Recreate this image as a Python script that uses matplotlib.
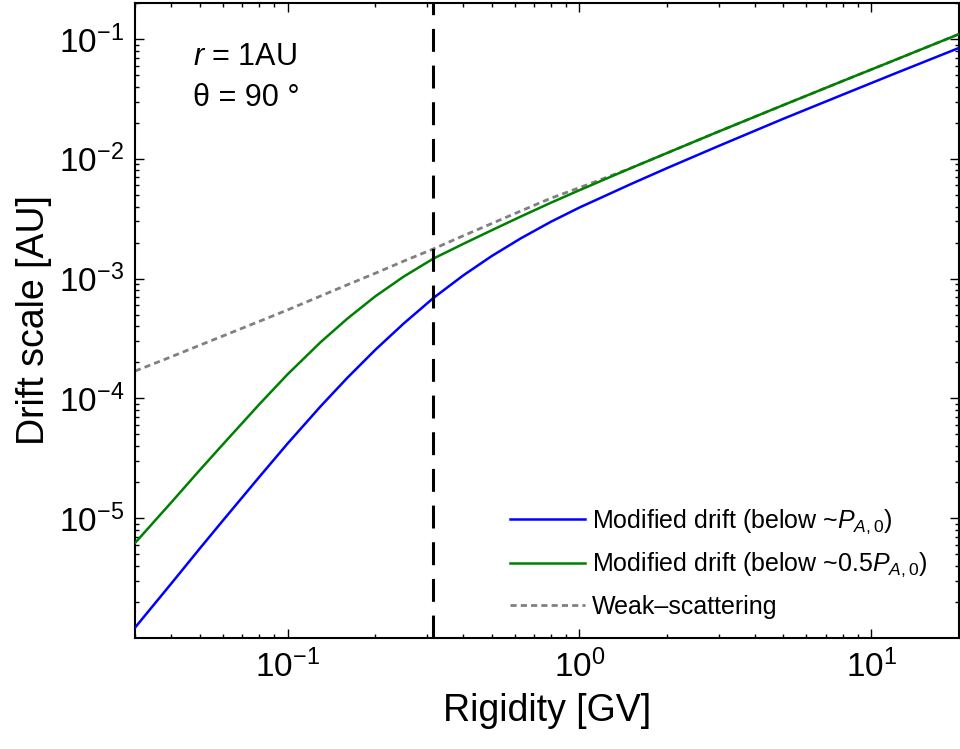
import matplotlib
matplotlib.use("Agg")
import matplotlib.pyplot as plt
import numpy as np

plt.rcParams['font.family'] = ['Liberation Sans', 'DejaVu Sans']
plt.rcParams['mathtext.fontset'] = 'custom'
plt.rcParams['mathtext.rm'] = 'Liberation Sans'
plt.rcParams['mathtext.it'] = 'Liberation Sans:italic'

# rigidity grid [GV]
rigidity = [0.03, 0.04, 0.05, 0.06, 0.08, 0.1, 0.13, 0.16, 0.2, 0.25, 0.316,
            0.4, 0.5, 0.63, 0.8, 1.0, 1.5, 2.0, 3.0, 5.0, 8.0, 12.0, 20.0]

# drift scale [AU]
drift_below_pa0 = [1.22e-6, 2.86e-6, 5.58e-6, 9.55e-6, 2.21e-5, 4.20e-5, 8.63e-5,
                   1.48e-4, 2.55e-4, 4.22e-4, 6.89e-4, 1.064e-3, 1.54e-3, 2.17e-3,
                   2.99e-3, 3.92e-3, 6.15e-3, 8.38e-3, 1.28e-2, 2.16e-2, 3.44e-2,
                   5.13e-2, 8.43e-2]
drift_below_half_pa0 = [6.21e-6, 1.36e-5, 2.52e-5, 4.13e-5, 8.93e-5, 1.59e-4, 2.96e-4,
                        4.62e-4, 7.13e-4, 1.04e-3, 1.47e-3, 1.95e-3, 2.53e-3, 3.30e-3,
                        4.31e-3, 5.47e-3, 8.36e-3, 1.12e-2, 1.69e-2, 2.81e-2, 4.47e-2,
                        6.65e-2, 0.110]
drift_weak = [1.69e-4, 2.23e-4, 2.78e-4, 3.32e-4, 4.40e-4, 5.48e-4, 7.17e-4,
              8.87e-4, 1.11e-3, 1.40e-3, 1.77e-3, 2.28e-3, 2.88e-3, 3.67e-3,
              4.70e-3, 5.74e-3, 8.36e-3, 1.12e-2, 1.69e-2, 2.81e-2, 4.47e-2,
              6.65e-2, 0.110]

p_a0 = 0.316

fig = plt.figure(figsize=(9.6, 7.49), dpi=100)
ax = fig.add_axes([135/960, 1 - 638/749, (959 - 135)/960, (638 - 3)/749])

ax.plot(rigidity, drift_weak, color='#808080', lw=2.0, dashes=(2.2, 1.5),
        label='Weak\u2013scattering', zorder=2)
ax.plot(rigidity, drift_below_pa0, color='#0000ff', lw=1.8,
        label=r'Modified drift (below ~$P_{A,0}$)', zorder=3)
ax.plot(rigidity, drift_below_half_pa0, color='#008000', lw=1.8,
        label=r'Modified drift (below ~0.5$P_{A,0}$)', zorder=3)
ax.axvline(p_a0, color='black', lw=2.2, dashes=(7.5, 4.5), zorder=4)

ax.set_xscale('log')
ax.set_yscale('log')
ax.set_xlim(0.03, 20)
ax.set_ylim(1e-6, 0.2)
ax.set_yticks([1e-5, 1e-4, 1e-3, 1e-2, 1e-1])
ax.set_xticks([0.1, 1, 10])

for s in ax.spines.values():
    s.set_linewidth(1.5)
ax.tick_params(which='both', direction='in', top=True, right=True, labelsize=24, width=1.0)
ax.tick_params(which='major', length=6.5, pad=8)
ax.tick_params(which='minor', length=3.2)

ax.set_xlabel('Rigidity [GV]', fontsize=27, labelpad=7)
ax.set_ylabel('Drift scale [AU]', fontsize=27, labelpad=5)

ax.text(0.07, 0.915, r'$r$ = 1AU', transform=ax.transAxes, fontsize=22, va='center')
ax.text(0.07, 0.85, '\u03b8 = 90 \u00b0', transform=ax.transAxes, fontsize=22, va='center')

handles, labels = ax.get_legend_handles_labels()
order = [1, 2, 0]
ax.legend([handles[i] for i in order], [labels[i] for i in order],
          loc='lower right', bbox_to_anchor=(0.962, 0.03), frameon=False,
          borderpad=0, borderaxespad=0,
          fontsize=18, handlelength=3.0, handletextpad=0.28, labelspacing=0.62)

fig.savefig('out.png', dpi=100)
